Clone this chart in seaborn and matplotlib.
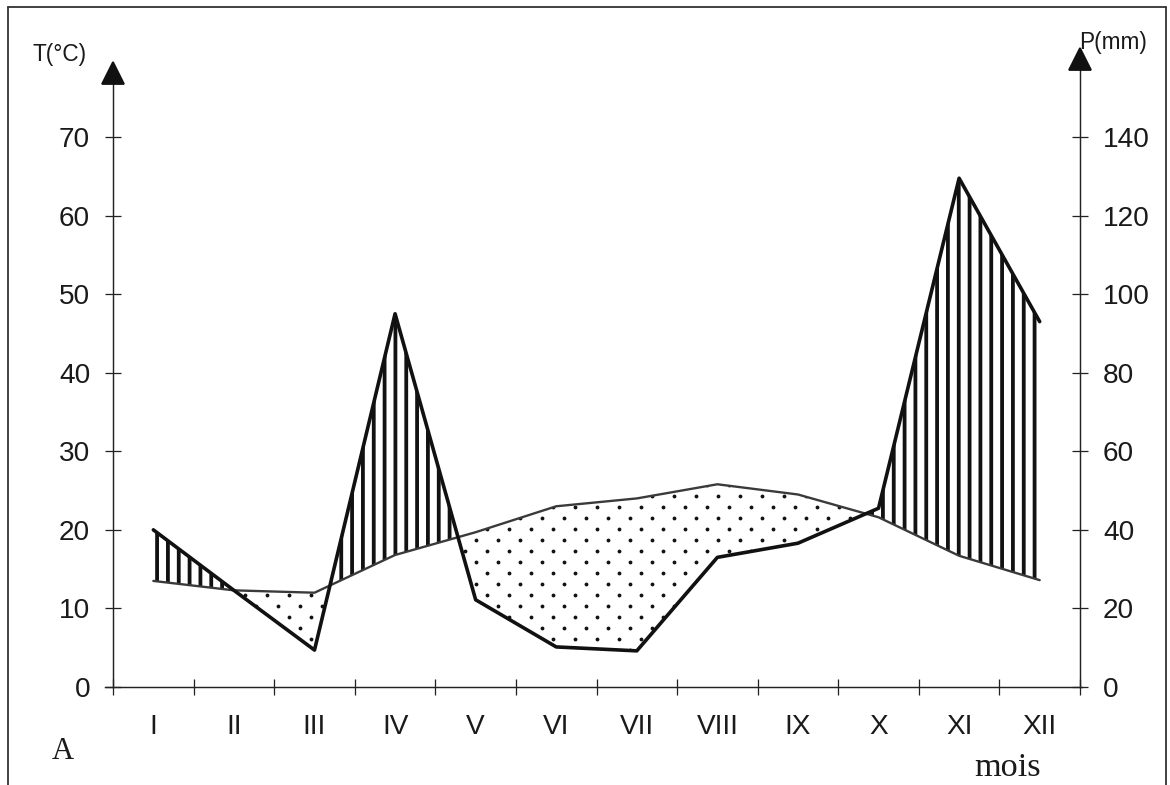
import numpy as np
import pandas as pd
import matplotlib
matplotlib.use("Agg")
import matplotlib.pyplot as plt
import seaborn as sns
from matplotlib.path import Path
from matplotlib.lines import Line2D

# ---------------- data ----------------
months = ["I", "II", "III", "IV", "V", "VI", "VII", "VIII", "IX", "X", "XI", "XII"]
temp_c = [13.5, 12.3, 12.0, 16.8, 19.7, 23.0, 24.0, 25.8, 24.5, 21.6, 16.7, 13.6]
precip_mm = [40.0, 24.6, 9.4, 95.0, 22.2, 10.2, 9.2, 33.0, 36.6, 45.5, 129.5, 93.0]
t_ticks = [0, 10, 20, 30, 40, 50, 60, 70]
p_ticks = [0, 20, 40, 60, 80, 100, 120, 140]

# ---------------- style ----------------
sns.set_theme(style="white")
plt.rcParams["font.family"] = ["Liberation Sans", "DejaVu Sans"]
plt.rcParams["hatch.linewidth"] = 2.1
plt.rcParams["hatch.color"] = "#111111"

DPI = 130
W, H = 1170, 785
fig = plt.figure(figsize=(W / DPI, H / DPI), dpi=DPI)
fig.patch.set_facecolor("white")

ax = fig.add_axes([105 / W, 1 - 687 / H, 979 / W, (687 - 58.4) / H])
ax.set_facecolor("none")

x = np.arange(len(months))
df = pd.DataFrame({"x": x, "mois": months, "T": temp_c,
                   "P2": np.array(precip_mm) / 2.0})

# humid periods: vertical hatching
ax.fill_between(df["x"], df["T"], df["P2"], where=df["P2"] >= df["T"],
                interpolate=True, facecolor="none", edgecolor="#111111",
                hatch="||", linewidth=0, zorder=1)

# dry periods: dotted texture clipped to region
dry = ax.fill_between(df["x"], df["T"], df["P2"], where=df["P2"] <= df["T"],
                      interpolate=True, facecolor="none", edgecolor="none",
                      linewidth=0, zorder=1)
dx, dy = 0.273, 1.40
gx, gy = [], []
for j, yy in enumerate(np.arange(0.5, 30, dy)):
    off = (j % 2) * dx / 2
    for xx in np.arange(-0.5 + off, 11.6, dx):
        gx.append(xx)
        gy.append(yy)
dots = ax.scatter(gx, gy, s=4.5, color="#111111", marker="o", linewidths=0, zorder=1)
clip = Path.make_compound_path(*dry.get_paths())
dots.set_clip_path(clip, ax.transData)

# lines
sns.lineplot(data=df, x="x", y="T", color="#3a3a3a", linewidth=1.3, ax=ax,
             zorder=3, legend=False)
sns.lineplot(data=df, x="x", y="P2", color="#111111", linewidth=2.0, ax=ax,
             zorder=4, legend=False)

# axes limits
ax.set_xlim(-0.6, 11.55)
ax.set_ylim(0, 80)

for s in ["top", "right"]:
    ax.spines[s].set_visible(False)
ax.spines["left"].set_position(("data", -0.5))
ax.spines["left"].set_bounds(0, 77.5)
ax.spines["bottom"].set_bounds(-0.6, 11.52)
for s in ["left", "bottom"]:
    ax.spines[s].set_color("#222222")
    ax.spines[s].set_linewidth(0.8)

ax.set_yticks(t_ticks)
ax.set_yticklabels([str(v) for v in t_ticks])
ax.tick_params(axis="y", direction="inout", length=9.4, width=0.7,
               color="#222222", pad=8, labelsize=15.5, labelcolor="#1a1a1a",
               left=True)
ax.set_xticks(np.arange(-0.5, 12, 1.0))
ax.set_xticklabels([])
ax.set_xticks(x, minor=True)
ax.set_xticklabels(months, minor=True)
ax.tick_params(axis="x", which="major", direction="inout", length=8.8,
               width=0.7, color="#222222", bottom=True)
ax.tick_params(axis="x", which="minor", length=0, pad=15, labelsize=15.5,
               labelcolor="#1a1a1a", bottom=True)
ax.set_xlabel("")
ax.set_ylabel("")
ax.grid(False)

# right axis (precipitation)
ax2 = ax.twinx()
ax2.set_ylim(0, 160)
for s in ["top", "left", "bottom"]:
    ax2.spines[s].set_visible(False)
ax2.spines["right"].set_position(("data", 11.5))
ax2.spines["right"].set_bounds(0, 157)
ax2.spines["right"].set_color("#222222")
ax2.spines["right"].set_linewidth(0.8)
ax2.set_yticks(p_ticks)
ax2.set_yticklabels([str(v) for v in p_ticks])
ax2.tick_params(axis="y", direction="inout", length=9.4, width=0.7,
                color="#222222", pad=8, labelsize=15.5, labelcolor="#1a1a1a",
                right=True)
ax2.grid(False)

# arrow heads on the vertical axes
ax.plot([-0.5], [78.2], marker="^", markersize=12, color="#111111",
        clip_on=False, zorder=5)
ax2.plot([11.5], [159.8], marker="^", markersize=12, color="#111111",
         clip_on=False, zorder=5)

# texts
fig.text(60 / W, 1 - 54 / H, "T(°C)", ha="center", va="center",
         fontsize=12.5, color="#1a1a1a")
fig.text(1113 / W, 1 - 42 / H, "P(mm)", ha="center", va="center",
         fontsize=12.5, color="#1a1a1a")
fig.text(52 / W, 1 - 759 / H, "A", ha="left", va="baseline",
         fontsize=17, family=["Liberation Serif", "DejaVu Serif"], color="#1a1a1a")
fig.text(1008 / W, 1 - 776 / H, "mois", ha="center", va="baseline",
         fontsize=19, family=["Liberation Serif", "DejaVu Serif"], color="#1a1a1a")

# frame around the figure
for xs, ys in [((8 / W, 8 / W), (0, 1 - 7 / H)),
               ((8 / W, 1166 / W), (1 - 7 / H, 1 - 7 / H)),
               ((1166 / W, 1166 / W), (1 - 7 / H, 0))]:
    fig.add_artist(Line2D(xs, ys, transform=fig.transFigure, color="#333333",
                          linewidth=1.0))

fig.savefig("out.png", dpi=DPI)
